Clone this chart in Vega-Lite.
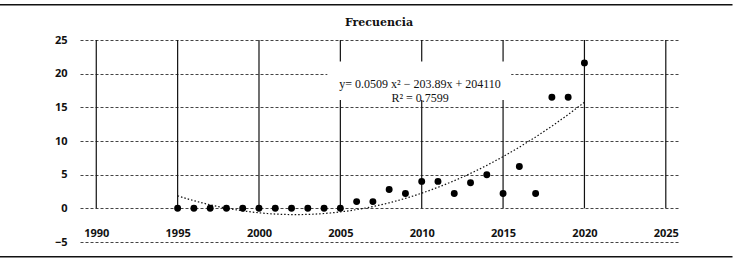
{
  "$schema": "https://vega.github.io/schema/vega-lite/v6.json",
  "width": 598,
  "height": 202,
  "autosize": {"type": "none"},
  "padding": {"left": 80, "top": 40, "right": 67, "bottom": 20},
  "background": "white",
  "config": {"view": {"stroke": null}},
  "title": {"text": "Frecuencia", "font": "DejaVu Serif", "fontSize": 11, "fontWeight": "bold", "color": "#111", "anchor": "middle", "frame": "group", "baseline": "alphabetic", "offset": -33},
  "datasets": {
    "points": [
      {"year": 1995, "freq": 0}, {"year": 1996, "freq": 0}, {"year": 1997, "freq": 0},
      {"year": 1998, "freq": 0}, {"year": 1999, "freq": 0}, {"year": 2000, "freq": 0},
      {"year": 2001, "freq": 0}, {"year": 2002, "freq": 0}, {"year": 2003, "freq": 0},
      {"year": 2004, "freq": 0}, {"year": 2005, "freq": 0}, {"year": 2006, "freq": 1},
      {"year": 2007, "freq": 1}, {"year": 2008, "freq": 2.8}, {"year": 2009, "freq": 2.2},
      {"year": 2010, "freq": 4}, {"year": 2011, "freq": 4}, {"year": 2012, "freq": 2.2},
      {"year": 2013, "freq": 3.8}, {"year": 2014, "freq": 5}, {"year": 2015, "freq": 2.2},
      {"year": 2016, "freq": 6.2}, {"year": 2017, "freq": 2.2}, {"year": 2018, "freq": 16.5},
      {"year": 2019, "freq": 16.5}, {"year": 2020, "freq": 21.6}
    ],
    "decades": [
      {"year": 1990}, {"year": 1995}, {"year": 2000}, {"year": 2005},
      {"year": 2010}, {"year": 2015}, {"year": 2020}, {"year": 2025}
    ],
    "single": [{}]
  },
  "layer": [
    {
      "data": {"name": "decades"},
      "mark": {"type": "rule", "color": "#111", "strokeWidth": 1.2},
      "encoding": {
        "x": {"field": "year", "type": "quantitative",
              "scale": {"domain": [1989.0, 2025.75], "nice": false, "zero": false},
              "axis": {"values": [1990, 1995, 2000, 2005, 2010, 2015, 2020, 2025], "tickCount": 20, "format": "d", "grid": false, "domain": false, "ticks": false, "tickSize": 0, "labelOverlap": false,
                       "labelPadding": -9, "labelBaseline": "middle", "labelFont": "Open Sans", "labelFontWeight": "bold", "labelFontSize": 11, "labelColor": "#111", "title": null}},
        "y": {"datum": 0, "type": "quantitative",
              "scale": {"domain": [-5, 25], "nice": false, "zero": false},
              "axis": {"values": [-5, 0, 5, 10, 15, 20, 25], "tickCount": 10, "format": "d", "grid": true, "gridDash": [3, 2], "gridColor": "#444", "gridWidth": 1, "labelOverlap": false,
                       "domain": false, "ticks": false, "labelPadding": 13, "labelFont": "Open Sans", "labelFontWeight": "bold", "labelFontSize": 11, "labelColor": "#111", "title": null}},
        "y2": {"datum": 25}
      }
    },
    {
      "data": {"name": "single"},
      "mark": {"type": "rect", "fill": "white"},
      "encoding": {
        "x": {"datum": 2004.2, "type": "quantitative"},
        "x2": {"datum": 2015.5},
        "y": {"datum": 16.1, "type": "quantitative"},
        "y2": {"datum": 21.8}
      }
    },
    {
      "data": {"name": "single"},
      "mark": {"type": "text", "font": "Liberation Serif", "fontSize": 12, "color": "#111", "align": "center", "baseline": "middle", "lineHeight": 14},
      "encoding": {
        "x": {"datum": 2009.9, "type": "quantitative"},
        "y": {"datum": 18.5, "type": "quantitative"},
        "text": {"value": ["y= 0.0509 x² − 203.89x + 204110", "R² = 0.7599"]}
      }
    },
    {
      "data": {"name": "points"},
      "transform": [{"regression": "freq", "on": "year", "method": "poly", "order": 2}],
      "mark": {"type": "line", "color": "#111", "strokeWidth": 1.2, "strokeDash": [1.5, 2]},
      "encoding": {
        "x": {"field": "year", "type": "quantitative"},
        "y": {"field": "freq", "type": "quantitative"}
      }
    },
    {
      "data": {"name": "points"},
      "mark": {"type": "circle", "color": "#000", "opacity": 1, "size": 48},
      "encoding": {
        "x": {"field": "year", "type": "quantitative"},
        "y": {"field": "freq", "type": "quantitative"}
      }
    },
    {
      "data": {"name": "single"},
      "mark": {"type": "rule", "color": "#111", "strokeWidth": 1.5},
      "encoding": {
        "x": {"datum": 1983.9, "type": "quantitative"},
        "x2": {"datum": 2029.1},
        "y": {"datum": 30.25, "type": "quantitative"}
      }
    },
    {
      "data": {"name": "single"},
      "mark": {"type": "rule", "color": "#111", "strokeWidth": 1.5},
      "encoding": {
        "x": {"datum": 1983.9, "type": "quantitative"},
        "x2": {"datum": 2029.1},
        "y": {"datum": -7.2, "type": "quantitative"}
      }
    }
  ]
}
